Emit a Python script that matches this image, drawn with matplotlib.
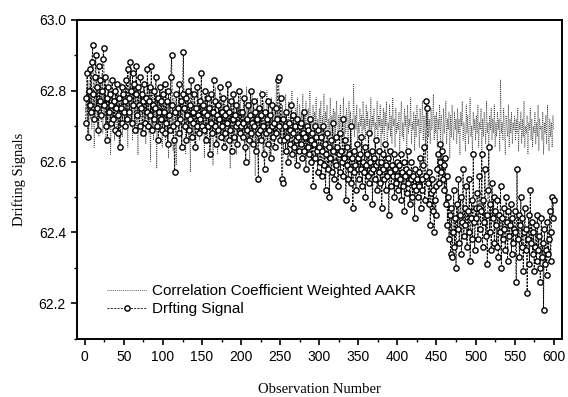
import numpy as np
import matplotlib
matplotlib.use('Agg')
import matplotlib.pyplot as plt
from matplotlib.ticker import MultipleLocator

# Drifting signal, observations 1..600
drift_signal = [
    62.71, 62.78, 62.85, 62.67, 62.80, 62.76, 62.86, 62.74, 62.88, 62.93, 62.79, 62.72, 62.84, 62.90, 62.75, 62.81, 62.69, 62.87, 62.77, 62.83, 62.73, 62.80, 62.89, 62.92, 62.76,
    62.84, 62.70, 62.78, 62.66, 62.81, 62.74, 62.79, 62.71, 62.76, 62.83, 62.72, 62.77, 62.69, 62.80, 62.75, 62.82, 62.73, 62.68, 62.78, 62.64, 62.75, 62.81, 62.71, 62.79, 62.74,
    62.70, 62.77, 62.83, 62.72, 62.86, 62.78, 62.74, 62.88, 62.80, 62.71, 62.85, 62.76, 62.82, 62.69, 62.79, 62.87, 62.73, 62.81, 62.76, 62.70, 62.84, 62.75, 62.79, 62.68, 62.77,
    62.82, 62.71, 62.78, 62.74, 62.86, 62.70, 62.77, 62.81, 62.73, 62.87, 62.69, 62.76, 62.72, 62.80, 62.75, 62.84, 62.70, 62.78, 62.66, 62.74, 62.81, 62.72, 62.77, 62.69, 62.79,
    62.74, 62.68, 62.82, 62.71, 62.77, 62.65, 62.80, 62.73, 62.69, 62.84, 62.90, 62.76, 62.70, 62.66, 62.57, 62.74, 62.79, 62.71, 62.75, 62.68, 62.82, 62.72, 62.77, 62.64, 62.79,
    62.91, 62.75, 62.70, 62.78, 62.66, 62.73, 62.80, 62.69, 62.76, 62.72, 62.83, 62.67, 62.74, 62.71, 62.79, 62.64, 62.75, 62.70, 62.81, 62.73, 62.68, 62.77, 62.72, 62.85, 62.70,
    62.76, 62.69, 62.74, 62.80, 62.66, 62.73, 62.78, 62.70, 62.75, 62.62, 62.71, 62.79, 62.68, 62.74, 62.83, 62.70, 62.77, 62.65, 62.73, 62.69, 62.76, 62.72, 62.81, 62.67, 62.74,
    62.70, 62.78, 62.64, 62.73, 62.68, 62.75, 62.71, 62.82, 62.66, 62.74, 62.69, 62.77, 62.63, 62.72, 62.79, 62.67, 62.73, 62.70, 62.76, 62.65, 62.71, 62.80, 62.68, 62.74, 62.70,
    62.74, 62.67, 62.71, 62.78, 62.64, 62.60, 62.72, 62.69, 62.76, 62.66, 62.73, 62.80, 62.68, 62.71, 62.65, 62.77, 62.70, 62.74, 62.63, 62.72, 62.68, 62.55, 62.75, 62.69, 62.73,
    62.66, 62.79, 62.70, 62.62, 62.58, 62.74, 62.68, 62.72, 62.65, 62.77, 62.69, 62.73, 62.61, 62.70, 62.76, 62.67, 62.71, 62.64, 62.75, 62.68, 62.72, 62.83, 62.84, 62.70, 62.66,
    62.78, 62.55, 62.54, 62.72, 62.66, 62.70, 62.63, 62.74, 62.67, 62.60, 62.71, 62.65, 62.69, 62.76, 62.62, 62.68, 62.73, 62.64, 62.70, 62.66, 62.59, 62.72, 62.67, 62.63, 62.70,
    62.65, 62.71, 62.61, 62.68, 62.74, 62.63, 62.67, 62.58, 62.70, 62.64, 62.69, 62.62, 62.72, 62.66, 62.60, 62.68, 62.53, 62.65, 62.70, 62.61, 62.67, 62.63, 62.57, 62.69, 62.64,
    62.60, 62.67, 62.56, 62.63, 62.70, 62.59, 62.65, 62.52, 62.62, 62.68, 62.58, 62.64, 62.50, 62.61, 62.66, 62.57, 62.71, 62.63, 62.55, 62.60, 62.67, 62.59, 62.64, 62.53, 62.62,
    62.68, 62.57, 62.63, 62.60, 62.72, 62.56, 62.61, 62.66, 62.49, 62.59, 62.64, 62.55, 62.62, 62.58, 62.70, 62.54, 62.61, 62.47, 62.57, 62.63, 62.59, 62.52, 62.65, 62.58, 62.61,
    62.55, 62.62, 62.58, 62.67, 62.53, 62.60, 62.57, 62.64, 62.50, 62.59, 62.62, 62.56, 62.68, 62.54, 62.60, 62.57, 62.63, 62.48, 62.58, 62.61, 62.55, 62.66, 62.59, 62.52, 62.60,
    62.57, 62.63, 62.54, 62.60, 62.47, 62.58, 62.62, 62.55, 62.65, 62.52, 62.59, 62.56, 62.61, 62.45, 62.57, 62.63, 62.53, 62.59, 62.56, 62.62, 62.50, 62.58, 62.54, 62.60, 62.56,
    62.52, 62.59, 62.55, 62.62, 62.49, 62.57, 62.53, 62.60, 62.46, 62.56, 62.58, 62.51, 62.63, 62.54, 62.57, 62.48, 62.55, 62.60, 62.50, 62.56, 62.53, 62.44, 62.58, 62.52, 62.55,
    62.50, 62.57, 62.53, 62.61, 62.47, 62.55, 62.52, 62.59, 62.64, 62.49, 62.56, 62.77, 62.75, 62.54, 62.48, 62.57, 62.42, 62.51, 62.55, 62.46, 62.52, 62.40, 62.49, 62.45, 62.53,
    62.58, 62.62, 62.54, 62.60, 62.65, 62.57, 62.63, 62.55, 62.59, 62.52, 62.61, 62.48, 62.56, 62.42, 62.50, 62.38, 62.45, 62.34, 62.47, 62.33, 62.40, 62.52, 62.36, 62.44, 62.30,
    62.48, 62.41, 62.55, 62.37, 62.45, 62.50, 62.34, 62.43, 62.58, 62.39, 62.47, 62.42, 62.53, 62.36, 62.46, 62.40, 62.55, 62.32, 62.44, 62.49, 62.38, 62.62, 62.43, 62.35, 62.47,
    62.44, 62.51, 62.38, 62.47, 62.56, 62.41, 62.46, 62.62, 62.36, 62.49, 62.43, 62.58, 62.39, 62.45, 62.31, 62.52, 62.64, 62.40, 62.48, 62.35, 62.54, 62.44, 62.50, 62.37, 62.46,
    62.42, 62.36, 62.49, 62.33, 62.45, 62.40, 62.53, 62.30, 62.44, 62.38, 62.47, 62.41, 62.35, 62.50, 62.43, 62.32, 62.46, 62.39, 62.42, 62.48, 62.34, 62.44, 62.37, 62.41, 62.46,
    62.40, 62.26, 62.58, 62.38, 62.45, 62.33, 62.42, 62.50, 62.36, 62.44, 62.29, 62.40, 62.47, 62.35, 62.41, 62.23, 62.38, 62.45, 62.31, 62.52, 62.37, 62.43, 62.34, 62.40, 62.29,
    62.36, 62.42, 62.32, 62.45, 62.35, 62.39, 62.30, 62.26, 62.44, 62.33, 62.37, 62.18, 62.41, 62.31, 62.35, 62.28, 62.43, 62.34, 62.38, 62.46, 62.32, 62.40, 62.50, 62.44, 62.49,
]

# Correlation coefficient weighted AAKR estimate, observations 1..600
aakr_estimate = [
    62.74, 62.80, 62.70, 62.83, 62.66, 62.78, 62.72, 62.86, 62.69, 62.81, 62.75, 62.64, 62.79, 62.73, 62.84, 62.70, 62.77, 62.67, 62.82, 62.74, 62.71, 62.85, 62.68, 62.79, 62.73,
    62.80, 62.65, 62.76, 62.71, 62.83, 62.69, 62.77, 62.62, 62.74, 62.80, 62.70, 62.78, 62.66, 62.75, 62.81, 62.68, 62.73, 62.79, 62.63, 62.76, 62.71, 62.82, 62.67, 62.74, 62.78,
    62.69, 62.81, 62.72, 62.77, 62.64, 62.79, 62.73, 62.84, 62.70, 62.76, 62.66, 62.80, 62.74, 62.71, 62.83, 62.68, 62.75, 62.62, 62.78, 62.72, 62.80, 62.67, 62.76, 62.73, 62.81,
    62.70, 62.77, 62.65, 62.79, 62.72, 62.82, 62.68, 62.74, 62.60, 62.76, 62.71, 62.80, 62.66, 62.75, 62.73, 62.79, 62.58, 62.72, 62.77, 62.69, 62.81, 62.70, 62.74, 62.64, 62.78,
    62.71, 62.76, 62.66, 62.80, 62.69, 62.74, 62.61, 62.77, 62.72, 62.83, 62.68, 62.75, 62.63, 62.78, 62.70, 62.74, 62.59, 62.76, 62.71, 62.80, 62.67, 62.73, 62.78, 62.65, 62.75,
    62.81, 62.69, 62.74, 62.62, 62.77, 62.71, 62.79, 62.66, 62.73, 62.57, 62.75, 62.70, 62.80, 62.67, 62.72, 62.77, 62.63, 62.74, 62.69, 62.82, 62.71, 62.66, 62.76, 62.72, 62.79,
    62.68, 62.74, 62.61, 62.77, 62.70, 62.80, 62.66, 62.73, 62.69, 62.78, 62.64, 62.72, 62.76, 62.59, 62.74, 62.70, 62.81, 62.67, 62.73, 62.62, 62.77, 62.71, 62.75, 62.68, 62.79,
    62.66, 62.73, 62.70, 62.78, 62.63, 62.75, 62.69, 62.81, 62.67, 62.72, 62.58, 62.76, 62.71, 62.74, 62.65, 62.79, 62.70, 62.73, 62.62, 62.77, 62.68, 62.75, 62.71, 62.80, 62.66,
    62.73, 62.69, 62.78, 62.64, 62.74, 62.70, 62.81, 62.66, 62.72, 62.76, 62.60, 62.73, 62.69, 62.79, 62.67, 62.74, 62.71, 62.56, 62.75, 62.70, 62.78, 62.65, 62.72, 62.68, 62.80,
    62.70, 62.74, 62.63, 62.77, 62.69, 62.73, 62.66, 62.80, 62.71, 62.75, 62.61, 62.72, 62.68, 62.78, 62.70, 62.64, 62.76, 62.72, 62.69, 62.82, 62.67, 62.74, 62.71, 62.79, 62.65,
    62.73, 62.69, 62.76, 62.62, 62.74, 62.70, 62.79, 62.66, 62.72, 62.68, 62.77, 62.64, 62.73, 62.71, 62.80, 62.67, 62.74, 62.69, 62.60, 62.75, 62.70, 62.78, 62.66, 62.72, 62.76,
    62.68, 62.74, 62.71, 62.79, 62.65, 62.73, 62.69, 62.77, 62.62, 62.72, 62.75, 62.67, 62.80, 62.70, 62.73, 62.64, 62.76, 62.69, 62.74, 62.71, 62.78, 62.66, 62.72, 62.68, 62.75,
    62.70, 62.77, 62.64, 62.73, 62.68, 62.79, 62.66, 62.74, 62.71, 62.76, 62.62, 62.72, 62.69, 62.78, 62.67, 62.73, 62.70, 62.75, 62.63, 62.74, 62.68, 62.77, 62.71, 62.66, 62.73,
    62.69, 62.76, 62.65, 62.72, 62.70, 62.78, 62.64, 62.73, 62.68, 62.75, 62.71, 62.66, 62.77, 62.69, 62.74, 62.62, 62.72, 62.70, 62.82, 62.67, 62.73, 62.69, 62.76, 62.64, 62.71,
    62.68, 62.75, 62.70, 62.73, 62.63, 62.77, 62.69, 62.72, 62.66, 62.76, 62.70, 62.74, 62.61, 62.72, 62.68, 62.78, 62.67, 62.73, 62.70, 62.75, 62.64, 62.71, 62.69, 62.77, 62.66,
    62.73, 62.70, 62.76, 62.62, 62.72, 62.68, 62.75, 62.66, 62.74, 62.70, 62.77, 62.63, 62.71, 62.69, 62.76, 62.67, 62.73, 62.65, 62.78, 62.70, 62.72, 62.64, 62.75, 62.68, 62.71,
    62.69, 62.74, 62.63, 62.72, 62.77, 62.67, 62.71, 62.66, 62.75, 62.70, 62.73, 62.61, 62.76, 62.68, 62.72, 62.70, 62.78, 62.65, 62.71, 62.69, 62.74, 62.63, 62.73, 62.67, 62.76,
    62.70, 62.72, 62.64, 62.75, 62.68, 62.71, 62.77, 62.66, 62.73, 62.69, 62.62, 62.74, 62.70, 62.76, 62.67, 62.72, 62.65, 62.75, 62.69, 62.71, 62.79, 62.66, 62.73, 62.68, 62.74,
    62.64, 62.72, 62.69, 62.76, 62.66, 62.73, 62.70, 62.62, 62.75, 62.68, 62.71, 62.77, 62.65, 62.72, 62.69, 62.74, 62.61, 62.73, 62.67, 62.76, 62.70, 62.66, 62.74, 62.69, 62.72,
    62.65, 62.75, 62.68, 62.72, 62.62, 62.74, 62.70, 62.77, 62.66, 62.71, 62.69, 62.63, 62.76, 62.68, 62.73, 62.65, 62.71, 62.78, 62.67, 62.70, 62.62, 62.74, 62.69, 62.72, 62.66,
    62.73, 62.68, 62.76, 62.64, 62.71, 62.69, 62.75, 62.62, 62.72, 62.67, 62.74, 62.70, 62.65, 62.77, 62.68, 62.71, 62.63, 62.73, 62.69, 62.75, 62.66, 62.72, 62.68, 62.76, 62.64,
    62.71, 62.67, 62.74, 62.69, 62.72, 62.63, 62.83, 62.68, 62.71, 62.66, 62.75, 62.69, 62.62, 62.73, 62.70, 62.67, 62.76, 62.64, 62.72, 62.68, 62.74, 62.65, 62.71, 62.69, 62.73,
    62.66, 62.72, 62.68, 62.75, 62.63, 62.71, 62.69, 62.74, 62.65, 62.72, 62.67, 62.77, 62.64, 62.70, 62.68, 62.73, 62.62, 62.71, 62.69, 62.75, 62.66, 62.72, 62.64, 62.70, 62.68,
    62.74, 62.65, 62.71, 62.67, 62.76, 62.63, 62.72, 62.69, 62.70, 62.66, 62.74, 62.62, 62.71, 62.68, 62.73, 62.65, 62.76, 62.69, 62.63, 62.72, 62.67, 62.71, 62.64, 62.73, 62.69,
]

observations = np.arange(1, len(drift_signal) + 1)

sans = 'Liberation Sans'
serif = 'Liberation Serif'

fig = plt.figure(figsize=(5.68, 3.97), dpi=100)
ax = fig.add_axes([0.1356, 0.147, 0.853, 0.803])

# AAKR estimate first, then the drifting signal on top
ax.plot(observations, aakr_estimate, linestyle=(0, (1, 1.3)), color='0.25', linewidth=0.6,
        label='Correlation Coefficient Weighted AAKR')
ax.plot(observations, drift_signal, linestyle=(0, (2.5, 1.5)), color='black', linewidth=0.6,
        marker='o', markersize=3.8, markerfacecolor='white', markeredgecolor='black',
        markeredgewidth=1.0, label='Drfting Signal')

ax.set_xlim(-10, 610)
ax.set_ylim(62.1, 63.0)

ax.xaxis.set_major_locator(MultipleLocator(50))
ax.xaxis.set_minor_locator(MultipleLocator(25))
ax.yaxis.set_minor_locator(MultipleLocator(0.1))
ax.set_yticks([62.2, 62.4, 62.6, 62.8, 63.0])
ax.set_yticklabels(['62.2', '62.4', '62.6', '62.8', '63.0'])

ax.tick_params(which='major', direction='out', length=4.5, width=1.2, labelsize=10)
ax.tick_params(which='minor', direction='out', length=2.5, width=1.0)
for lab in ax.get_xticklabels() + ax.get_yticklabels():
    lab.set_fontfamily(sans)

for spine in ax.spines.values():
    spine.set_linewidth(1.4)

ax.set_xlabel('Observation Number', fontfamily=serif, fontsize=10.5, labelpad=14)
ax.set_ylabel('Drifting Signals', fontfamily=serif, fontsize=10.5, labelpad=9)

leg = ax.legend(loc='center left', bbox_to_anchor=(0.062, 0.12), frameon=False,
                prop={'family': sans, 'size': 11}, handlelength=2.6, handletextpad=0.35,
                labelspacing=0.25, borderpad=0, borderaxespad=0)

fig.savefig('out.png', dpi=100)
